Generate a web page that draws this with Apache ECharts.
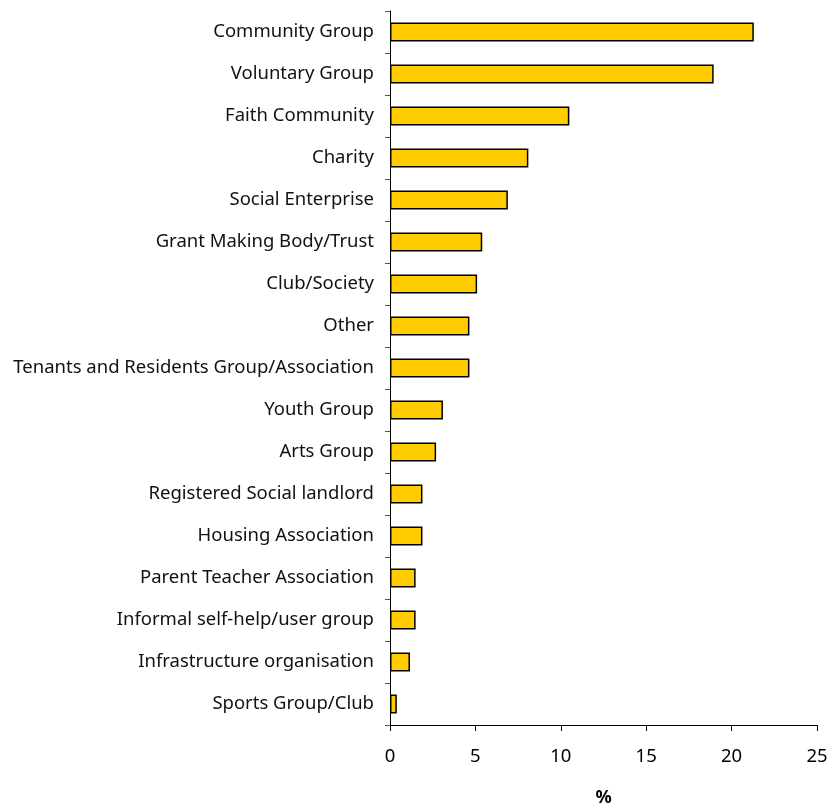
<!DOCTYPE html>
<html>
<head>
<meta charset="utf-8">
<script src="https://cdn.jsdelivr.net/npm/echarts@6/dist/echarts.min.js"></script>
<style>
  html, body { margin: 0; padding: 0; background: #fff; }
  #chart { width: 829px; height: 804px; }
</style>
</head>
<body>
<div id="chart"></div>
<script>
// organisation types, top to bottom as in the picture
var categories = [
  'Community Group',
  'Voluntary Group',
  'Faith Community',
  'Charity',
  'Social Enterprise',
  'Grant Making Body/Trust',
  'Club/Society',
  'Other',
  'Tenants and Residents Group/Association',
  'Youth Group',
  'Arts Group',
  'Registered Social landlord',
  'Housing Association',
  'Parent Teacher Association',
  'Informal self-help/user group',
  'Infrastructure organisation',
  'Sports Group/Club'
];
var percents = [21.3, 18.95, 10.5, 8.1, 6.9, 5.4, 5.1, 4.65, 4.65, 3.1, 2.7, 1.9, 1.9, 1.5, 1.5, 1.17, 0.4];
var xTicks = [0, 5, 10, 15, 20, 25];

var chart = echarts.init(document.getElementById('chart'));

var option = {
  animation: false,
  textStyle: { fontFamily: 'Noto Sans' },
  grid: { left: 390, right: 12, top: 11, bottom: 79, containLabel: false, outerBoundsMode: 'none' },
  xAxis: {
    type: 'value',
    min: xTicks[0],
    max: xTicks[xTicks.length - 1],
    interval: 5,
    name: '%',
    nameLocation: 'middle',
    nameGap: 64,
    nameTextStyle: { fontSize: 18, fontWeight: 'bold', color: '#000' },
    axisLine: { show: true, lineStyle: { color: '#000', width: 1 } },
    axisTick: { show: true, length: 6, lineStyle: { color: '#000' } },
    axisLabel: { fontSize: 18.5, color: '#000', margin: 22 },
    splitLine: { show: false }
  },
  yAxis: {
    type: 'category',
    inverse: true,
    data: categories,
    axisLine: { show: true, lineStyle: { color: '#000', width: 1 } },
    axisTick: { show: true, length: 5, lineStyle: { color: '#555' } },
    axisLabel: { fontSize: 18.5, color: '#111', margin: 16, padding: [5, 0, 0, 0] }
  },
  series: [{
    type: 'bar',
    data: percents,
    barWidth: '45%',
    itemStyle: { color: '#FFCC00', borderColor: '#000', borderWidth: 1.5 }
  }]
};

chart.setOption(option);
</script>
</body>
</html>
